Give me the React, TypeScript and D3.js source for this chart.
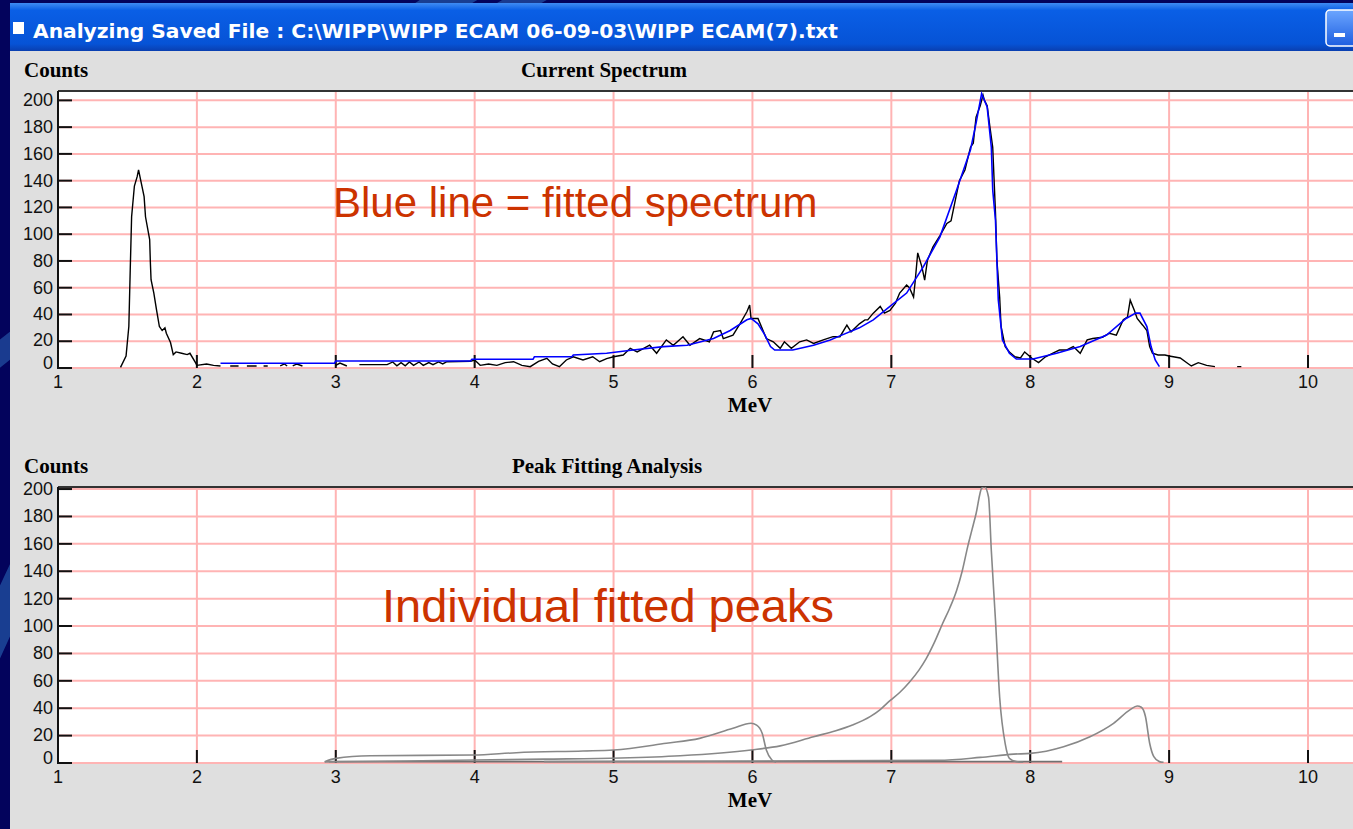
import React, { useEffect, useRef } from 'react';
import * as d3 from 'd3';

// axis ticks
const xTicks = [1, 2, 3, 4, 5, 6, 7, 8, 9, 10];
const yTicks = [0, 20, 40, 60, 80, 100, 120, 140, 160, 180, 200];

// measured spectrum (black), MeV / counts
const measEnergy = [
  1.45, 1.49, 1.51, 1.52, 1.53, 1.55, 1.57, 1.58, 1.59, 1.62, 1.63, 1.66, 1.665, 1.67, 1.69, 1.71, 1.73, 1.75,
  1.77, 1.78, 1.81, 1.83, 1.85, 1.89, 1.93, 1.95, 1.99, 2.0, 2.07, 2.12, 2.17, 2.2, 2.24, 2.3, 2.33, 2.36,
  2.43, 2.45, 2.48, 2.51, 2.55, 2.6, 2.63, 2.65, 2.67, 2.69, 2.72, 2.76, 2.79, 2.95, 3.0, 3.03, 3.08, 3.12,
  3.17, 3.37, 3.41, 3.44, 3.47, 3.5, 3.53, 3.56, 3.6, 3.63, 3.67, 3.7, 3.74, 3.77, 3.8, 3.97, 4.0, 4.04,
  4.1, 4.16, 4.22, 4.28, 4.34, 4.4, 4.46, 4.52, 4.56, 4.61, 4.66, 4.71, 4.78, 4.85, 4.9, 4.95, 5.0, 5.07,
  5.12, 5.17, 5.26, 5.31, 5.38, 5.43, 5.5, 5.55, 5.62, 5.69, 5.72, 5.77, 5.79, 5.86, 5.91, 5.96, 5.98, 5.99,
  6.04, 6.1, 6.15, 6.2, 6.23, 6.28, 6.34, 6.39, 6.44, 6.51, 6.58, 6.63, 6.68, 6.71, 6.77, 6.81, 6.83, 6.87,
  6.92, 6.95, 6.99, 7.03, 7.06, 7.11, 7.13, 7.16, 7.17, 7.19, 7.22, 7.24, 7.26, 7.3, 7.35, 7.4, 7.43, 7.46,
  7.49, 7.53, 7.57, 7.59, 7.61, 7.64, 7.66, 7.67, 7.69, 7.71, 7.73, 7.75, 7.76, 7.78, 7.79, 7.82, 7.85, 7.89,
  7.93, 7.96, 8.01, 8.06, 8.11, 8.16, 8.21, 8.26, 8.31, 8.36, 8.41, 8.45, 8.52, 8.57, 8.62, 8.67, 8.7, 8.72,
  8.75, 8.77, 8.81, 8.84, 8.86, 8.88, 8.92, 8.97, 9.0, 9.03, 9.08, 9.13, 9.16, 9.21, 9.27, 9.33, 9.36, 9.48,
  9.49, 9.52, 9.54,
];
const measCounts = [
  0.5, 9, 31, 73, 113, 136, 143, 148, 143, 128, 113, 96, 79, 66, 56, 43, 31, 28,
  30, 26, 19, 10, 12, 11, 10, 11, 4, 2, 3, 2, 1.5, 0, 1.5, 1.5, 0, 1.5,
  1.5, 0, 1.5, 1.5, 0, 1.5, 3, 1.5, 0, 1.5, 3, 1.5, 0, 0, 2, 3.7, 1.5, 0,
  2.5, 2.5, 4.5, 1.7, 4, 1.7, 4.5, 2, 4.5, 2, 4, 2.5, 4.5, 3, 4.7, 5, 6, 2,
  3, 2, 4, 4.7, 2, 1, 5, 7.2, 3, 1, 6, 8.4, 6, 8.4, 4.7, 7, 8.4, 9.7,
  14.7, 12, 17, 11, 21, 17, 23.4, 17, 22, 19.6, 27, 28, 22, 24.6, 33, 42, 47, 37,
  37, 22, 19.6, 14.7, 19.6, 14.7, 19.6, 21, 18.4, 21, 23.4, 23.4, 32, 27, 33, 36, 36, 41,
  46, 41, 43, 48.5, 56, 62, 60, 53, 63, 86, 75.6, 65.7, 80.6, 90.5, 99, 108, 110, 125,
  140, 148, 165, 168, 187.5, 196, 204, 200, 196, 180, 165, 115.6, 80.6, 53, 31, 16, 12, 8.4,
  7.5, 12, 7.5, 4, 8.4, 11, 13.4, 13.4, 16, 11, 21, 22, 23, 26, 24.6, 36, 38, 50.7,
  43, 37, 32, 28, 16, 11, 9.7, 9.7, 9, 8.4, 7.5, 3.7, 1.5, 4, 2, 1, 0, 0,
  1, 1, 0,
];

// fitted spectrum (blue)
const fitEnergy = [
  2.17, 2.99, 3.0, 3.97, 3.98, 4.42, 4.43, 4.7, 4.71, 4.95, 5.14, 5.36, 5.53, 5.72, 5.84, 5.96, 5.99, 6.04,
  6.09, 6.13, 6.16, 6.29, 6.44, 6.56, 6.63, 6.77, 6.87, 6.99, 7.11, 7.23, 7.35, 7.47, 7.57, 7.61, 7.65, 7.69,
  7.72, 7.73, 7.75, 7.77, 7.8, 7.85, 7.9, 8.02, 8.19, 8.36, 8.55, 8.69, 8.76, 8.79, 8.84, 8.87, 8.9, 8.93,
];
const fitCounts = [
  3.5, 3.5, 5.2, 5.2, 6.5, 6.5, 8.4, 8.4, 9.7, 11, 13.4, 16, 17, 22, 28, 36, 37, 33,
  24.6, 16, 13.4, 13.4, 17, 21, 24, 30, 36, 46, 56, 75.6, 98, 133, 163, 183, 205, 195,
  165, 133, 110, 51, 21, 11, 6.7, 6.7, 11, 16, 24.6, 37, 41, 41, 31, 16, 6, 1,
];

// individual fitted peaks (grey)
const peak6Energy = [2.92, 3.0, 3.25, 3.99, 4.3, 4.78, 5.0, 5.38, 5.62, 5.86, 5.99, 6.03, 6.07, 6.1, 6.14, 6.17];
const peak6Counts = [1, 3.4, 5.3, 5.8, 7.5, 8.8, 9.5, 14.4, 18, 25.3, 29, 27.7, 21.7, 9.5, 2.2, 0.5];

const peak77Energy = [
  2.92, 3.5, 4.0, 4.5, 5.05, 5.48, 5.99, 6.2, 6.44, 6.6, 6.72, 6.85, 6.92, 6.99, 7.06, 7.13, 7.2, 7.25,
  7.31, 7.37, 7.42, 7.47, 7.51, 7.55, 7.58, 7.61, 7.65, 7.67, 7.7, 7.72, 7.75, 7.78, 7.82, 7.85, 7.9, 7.95,
];
const peak77Counts = [
  0.8, 1.5, 2.2, 2.8, 3.6, 5.3, 9.5, 12.5, 19.2, 23.5, 27.7, 34, 39, 45.5, 51.5, 59, 68, 76,
  88, 102, 113, 126, 140, 158, 170, 182, 200.5, 201.7, 194, 155, 104, 48, 14, 3.4, 1, 0.5,
];

const peak88Energy = [4.5, 7.34, 7.64, 7.88, 8.0, 8.24, 8.43, 8.6, 8.72, 8.77, 8.8, 8.83, 8.86, 8.89, 8.93, 8.96];
const peak88Counts = [1, 2.0, 4.1, 6.5, 7, 11.9, 19.2, 29, 39, 41.6, 40.7, 33.8, 14.4, 4.6, 1, 0.5];

const baseEnergy = [2.95, 8.23];
const baseCounts = [1, 1];

const W = 1353;
const H = 829;
const PLOT_LEFT = 58;
const PINK = '#ffb4b4';

const zip = (xs, ys) => xs.map((x, i) => [x, ys[i]]);

const App = () => {
  const ref = useRef(null);

  useEffect(() => {
    d3.select(ref.current).selectAll('*').remove();

    const svg = d3.select(ref.current)
      .append('svg')
      .attr('width', W)
      .attr('height', H)
      .attr('viewBox', [0, 0, W, H])
      .style('position', 'absolute')
      .style('left', 0)
      .style('top', 0);

    const defs = svg.append('defs');
    const tg = defs.append('linearGradient').attr('id', 'titlebar').attr('x1', 0).attr('y1', 0).attr('x2', 0).attr('y2', 1);
    tg.append('stop').attr('offset', '0%').attr('stop-color', '#3f8cf3');
    tg.append('stop').attr('offset', '15%').attr('stop-color', '#0a5fe6');
    tg.append('stop').attr('offset', '85%').attr('stop-color', '#0653d6');
    tg.append('stop').attr('offset', '100%').attr('stop-color', '#0a3fb0');
    const bg = defs.append('linearGradient').attr('id', 'minbtn').attr('x1', 0).attr('y1', 0).attr('x2', 0).attr('y2', 1);
    bg.append('stop').attr('offset', '0%').attr('stop-color', '#6ca6ff');
    bg.append('stop').attr('offset', '100%').attr('stop-color', '#1d5ee0');

    // slide background
    svg.append('rect').attr('width', W).attr('height', H).attr('fill', '#03035c');
    svg.append('path')
      .attr('d', 'M -60 760 Q 40 520 160 300 T 520 -40')
      .attr('fill', 'none').attr('stroke', '#2458a8').attr('stroke-width', 30).attr('opacity', 0.7);
    svg.append('path')
      .attr('d', 'M -80 420 Q 200 180 560 -20')
      .attr('fill', 'none').attr('stroke', '#2a60b0').attr('stroke-width', 22).attr('opacity', 0.6);

    // window
    svg.append('rect').attr('x', 10).attr('y', 50).attr('width', W - 10).attr('height', H - 50).attr('fill', '#dfdfdf');
    svg.append('rect').attr('x', 10).attr('y', 3).attr('width', W - 10).attr('height', 48).attr('fill', 'url(#titlebar)');
    svg.append('rect').attr('x', 13).attr('y', 22).attr('width', 11).attr('height', 12).attr('fill', '#ffffff');
    svg.append('text')
      .attr('x', 33).attr('y', 38)
      .attr('fill', '#ffffff')
      .attr('font-family', '"DejaVu Sans", sans-serif')
      .attr('font-weight', 'bold')
      .attr('font-size', 19)
      .attr('textLength', 805)
      .attr('lengthAdjust', 'spacingAndGlyphs')
      .text('Analyzing Saved File : C:\\WIPP\\WIPP ECAM 06-09-03\\WIPP ECAM(7).txt');
    svg.append('rect').attr('x', 1326).attr('y', 10).attr('width', 40).attr('height', 36).attr('rx', 4)
      .attr('fill', 'url(#minbtn)').attr('stroke', '#ffffff').attr('stroke-width', 1.5);
    svg.append('rect').attr('x', 1334).attr('y', 33).attr('width', 11).attr('height', 4).attr('fill', '#ffffff');

    const x = d3.scaleLinear().domain([1, 10]).range([PLOT_LEFT, 1308]);

    const drawPanel = (top, bottom, yMax, id, title, titleX, series) => {
      const y = d3.scaleLinear().domain([0, yMax]).range([bottom, top]);
      const g = svg.append('g');

      g.append('rect').attr('x', PLOT_LEFT).attr('y', top).attr('width', W - PLOT_LEFT).attr('height', bottom - top).attr('fill', '#ffffff');

      // grid
      g.selectAll('.vgrid').data(xTicks.slice(1)).join('line')
        .attr('x1', d => x(d)).attr('x2', d => x(d))
        .attr('y1', top).attr('y2', bottom)
        .attr('stroke', PINK).attr('stroke-width', 2);
      g.selectAll('.hgrid').data(yTicks).join('line')
        .attr('x1', PLOT_LEFT).attr('x2', W)
        .attr('y1', d => y(d)).attr('y2', d => y(d))
        .attr('stroke', PINK).attr('stroke-width', 2);

      // frame, ticks
      g.append('line').attr('x1', PLOT_LEFT).attr('x2', W).attr('y1', top).attr('y2', top).attr('stroke', '#333').attr('stroke-width', 2);
      g.append('line').attr('x1', PLOT_LEFT).attr('x2', PLOT_LEFT).attr('y1', top).attr('y2', bottom + 1).attr('stroke', '#111').attr('stroke-width', 2);
      g.selectAll('.ytick').data(yTicks).join('line')
        .attr('x1', PLOT_LEFT).attr('x2', PLOT_LEFT + 14)
        .attr('y1', d => y(d)).attr('y2', d => y(d))
        .attr('stroke', '#111').attr('stroke-width', 2);
      g.selectAll('.xtick').data(xTicks.slice(1)).join('line')
        .attr('x1', d => x(d)).attr('x2', d => x(d))
        .attr('y1', bottom - 13).attr('y2', bottom)
        .attr('stroke', '#111').attr('stroke-width', 2);

      // labels ("0" is pushed up against "20" as in the original)
      g.selectAll('.ylab').data(yTicks).join('text')
        .attr('x', 53)
        .attr('y', d => (d === 0 ? y(d) - 5 : d === 20 ? y(d) - 1 : y(d)))
        .attr('text-anchor', 'end')
        .attr('dominant-baseline', 'central')
        .attr('font-family', '"Liberation Sans", Arial, sans-serif')
        .attr('font-size', 18)
        .attr('fill', '#111')
        .text(d => d);
      g.selectAll('.xlab').data(xTicks).join('text')
        .attr('x', d => x(d))
        .attr('y', bottom + 20)
        .attr('text-anchor', 'middle')
        .attr('font-family', '"Liberation Sans", Arial, sans-serif')
        .attr('font-size', 18)
        .attr('fill', '#111')
        .text(d => d);

      const serif = (t, xx, yy, anchor) => g.append('text')
        .attr('x', xx).attr('y', yy)
        .attr('text-anchor', anchor)
        .attr('font-family', '"Liberation Serif", "Times New Roman", serif')
        .attr('font-weight', 'bold')
        .attr('font-size', 21)
        .attr('fill', '#000')
        .text(t);
      serif('Counts', 24, top - 14, 'start');
      serif(title, titleX, top - 14, 'middle');
      serif('MeV', 750, bottom + 44, 'middle');

      // curves
      defs.append('clipPath').attr('id', id)
        .append('rect').attr('x', PLOT_LEFT).attr('y', top).attr('width', W - PLOT_LEFT).attr('height', bottom - top + 1);
      const cg = g.append('g').attr('clip-path', `url(#${id})`);
      series.forEach(s => {
        const line = d3.line()
          .defined(d => d[1] > 0)
          .curve(s.smooth ? d3.curveMonotoneX : d3.curveLinear)
          .x(d => x(d[0]))
          .y(d => y(d[1]));
        cg.append('path')
          .datum(s.data)
          .attr('fill', 'none')
          .attr('stroke', s.color)
          .attr('stroke-width', s.width)
          .attr('d', line);
      });
      return g;
    };

    drawPanel(91, 368, 207, 'clipTop', 'Current Spectrum', 604, [
      { data: zip(measEnergy, measCounts), color: '#000000', width: 1.4 },
      { data: zip(fitEnergy, fitCounts), color: '#0000ff', width: 1.6 },
    ]);

    drawPanel(487, 763, 201.5, 'clipBottom', 'Peak Fitting Analysis', 607, [
      { data: zip(baseEnergy, baseCounts), color: '#707070', width: 1.8 },
      { data: zip(peak6Energy, peak6Counts), color: '#888888', width: 1.6, smooth: true },
      { data: zip(peak77Energy, peak77Counts), color: '#888888', width: 1.6, smooth: true },
      { data: zip(peak88Energy, peak88Counts), color: '#888888', width: 1.6, smooth: true },
    ]);

    // slide annotations
    const note = (t, xx, yy, size) => svg.append('text')
      .attr('x', xx).attr('y', yy)
      .attr('font-family', '"Liberation Sans", Arial, sans-serif')
      .attr('font-size', size)
      .attr('fill', '#cc3300')
      .text(t);
    note('Blue line = fitted spectrum', 333, 217, 42);
    note('Individual fitted peaks', 382, 622, 47);
  }, []);

  return <div ref={ref}></div>;
};

export default App;
